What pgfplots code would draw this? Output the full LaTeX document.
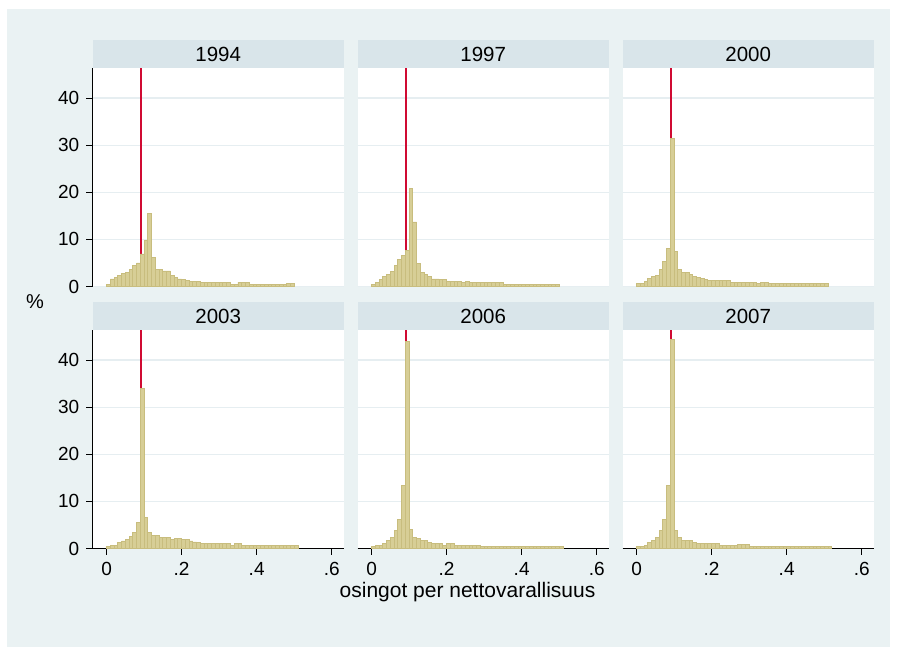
\documentclass[border=0pt]{standalone}
\usepackage{fontspec}
\setmainfont{Liberation Sans}
\usepackage{pgfplots}
\pgfplotsset{compat=1.18}
\definecolor{bg}{RGB}{234,242,243}
\definecolor{hdr}{RGB}{217,229,234}
\definecolor{gridc}{RGB}{230,238,241}
\definecolor{barf}{RGB}{215,206,150}
\definecolor{bard}{RGB}{200,189,126}
\definecolor{refl}{RGB}{208,10,50}
\pgfplotsset{
 panel/.style={scale only axis, width=125.5pt, height=109.25pt,
   xmin=-0.037, xmax=0.632, ymin=0, ymax=46.4,
   axis lines*=left, axis background/.style={fill=white},
   ymajorgrids, grid style={gridc, line width=0.7pt},
   ytick={0,10,20,30,40}, xtick={0,0.2,0.4,0.6},
   tick align=outside, major tick length=3.2pt,
   xticklabels={}, yticklabels={},
   x axis line style={draw=none}, y axis line style={draw=none},
   xtick style={draw=none}, ytick style={draw=none},
   /pgf/number format/assume math mode=true,
   ticklabel style={font=\fontsize{9.5}{11}\selectfont},
 },
 leftcol/.style={y axis line style={draw=black, line width=0.5pt},
   ytick style={draw=black, line width=0.5pt}, yticklabels={0,10,20,30,40}},
 bottomrow/.style={x axis line style={draw=black, line width=0.5pt},
   xtick style={draw=black, line width=0.5pt}, xticklabels={0,.2,.4,.6}},
 hist/.style={ybar interval, fill=barf, draw=bard, line width=0.4pt},
 refline/.style={draw=refl, line width=0.9pt},
}
\newcommand{\ttl}{\fontsize{10.25}{12}\selectfont}
\begin{document}
\begin{tikzpicture}
\fill[white] (0pt,0pt) rectangle (448.5pt,328pt);
\fill[bg] (3.5pt,4.5pt) rectangle (445pt,323.5pt);
% headers
\foreach \cx in {46.35,178.85,311.35}{
  \fill[hdr] (\cx pt,294pt) rectangle ++(125.5pt,14pt);
  \fill[hdr] (\cx pt,163pt) rectangle ++(125.5pt,14pt);
}
\node[font=\ttl] at (109.1pt,301pt) {1994};
\node[font=\ttl] at (241.6pt,301pt) {1997};
\node[font=\ttl] at (374.1pt,301pt) {2000};
\node[font=\ttl] at (109.1pt,170pt) {2003};
\node[font=\ttl] at (241.6pt,170pt) {2006};
\node[font=\ttl] at (374.1pt,170pt) {2007};
\node[font=\fontsize{10}{12}\selectfont] at (17.5pt,177pt) {\%};
\node[font=\fontsize{10.5}{12}\selectfont] at (233.75pt,32pt) {osingot per nettovarallisuus};

% 1994
\begin{axis}[panel, leftcol, at={(46.35pt,184.75pt)}, anchor=south west]
\addplot[refline] coordinates {(0.091,0) (0.091,46.4)};
\addplot[hist] coordinates {(0,0.5)(0.01,1.6)(0.02,2.0)(0.03,2.3)(0.04,2.8)(0.05,2.9)(0.06,3.6)(0.07,4.5)(0.08,5.0)(0.09,6.9)(0.10,9.8)(0.11,15.5)(0.12,6.2)(0.13,3.6)(0.14,3.6)(0.15,3.3)(0.16,3.3)(0.17,2.4)(0.18,2.0)(0.19,1.6)(0.20,1.4)(0.21,1.2)(0.22,1.1)(0.23,1.1)(0.24,1.0)(0.25,0.9)(0.26,0.9)(0.27,0.9)(0.28,0.9)(0.29,0.9)(0.30,0.9)(0.31,0.9)(0.32,0.9)(0.33,0.5)(0.34,0.5)(0.35,0.9)(0.36,0.9)(0.37,0.9)(0.38,0.5)(0.39,0.5)(0.40,0.5)(0.41,0.5)(0.42,0.5)(0.43,0.5)(0.44,0.5)(0.45,0.5)(0.46,0.5)(0.47,0.5)(0.48,0.7)(0.49,0.7)(0.50,0.7)};
\end{axis}
% 1997
\begin{axis}[panel, at={(178.85pt,184.75pt)}, anchor=south west]
\addplot[refline] coordinates {(0.091,0) (0.091,46.4)};
\addplot[hist] coordinates {(0,0.4)(0.01,0.85)(0.02,1.4)(0.03,2.1)(0.04,2.5)(0.05,3.1)(0.06,4.4)(0.07,5.7)(0.08,6.5)(0.09,7.6)(0.10,20.8)(0.11,13.7)(0.12,4.8)(0.13,3.0)(0.14,2.5)(0.15,2.1)(0.16,1.6)(0.17,1.6)(0.18,1.4)(0.19,1.4)(0.20,1.1)(0.21,1.1)(0.22,1.1)(0.23,1.1)(0.24,0.9)(0.25,1.1)(0.26,0.9)(0.27,0.9)(0.28,0.9)(0.29,0.9)(0.30,0.9)(0.31,0.9)(0.32,0.9)(0.33,0.9)(0.34,0.9)(0.35,0.45)(0.36,0.45)(0.37,0.45)(0.38,0.45)(0.39,0.45)(0.40,0.45)(0.41,0.45)(0.42,0.45)(0.43,0.45)(0.44,0.45)(0.45,0.45)(0.46,0.45)(0.47,0.45)(0.48,0.45)(0.49,0.45)(0.50,0.45)};
\end{axis}
% 2000
\begin{axis}[panel, at={(311.35pt,184.75pt)}, anchor=south west]
\addplot[refline] coordinates {(0.091,0) (0.091,46.4)};
\addplot[hist] coordinates {(0,0.6)(0.01,0.6)(0.02,1.1)(0.03,1.7)(0.04,2.2)(0.05,2.4)(0.06,3.6)(0.07,5.3)(0.08,8.1)(0.09,31.4)(0.10,7.4)(0.11,3.6)(0.12,3.0)(0.13,2.9)(0.14,2.5)(0.15,2.2)(0.16,2.0)(0.17,1.7)(0.18,1.5)(0.19,1.2)(0.20,1.2)(0.21,1.2)(0.22,1.2)(0.23,1.2)(0.24,1.2)(0.25,0.9)(0.26,0.9)(0.27,0.9)(0.28,0.9)(0.29,0.9)(0.30,0.9)(0.31,0.9)(0.32,0.6)(0.33,0.9)(0.34,0.9)(0.35,0.6)(0.36,0.6)(0.37,0.6)(0.38,0.6)(0.39,0.6)(0.40,0.6)(0.41,0.6)(0.42,0.6)(0.43,0.6)(0.44,0.6)(0.45,0.6)(0.46,0.6)(0.47,0.6)(0.48,0.6)(0.49,0.6)(0.50,0.6)(0.51,0.6)};
\end{axis}
% 2003
\begin{axis}[panel, leftcol, bottomrow, at={(46.35pt,53.75pt)}, anchor=south west]
\addplot[refline] coordinates {(0.091,0) (0.091,46.4)};
\addplot[hist] coordinates {(0,0.35)(0.01,0.6)(0.02,0.6)(0.03,1.2)(0.04,1.6)(0.05,1.9)(0.06,2.5)(0.07,3.4)(0.08,5.5)(0.09,34.0)(0.10,6.5)(0.11,3.4)(0.12,2.8)(0.13,2.8)(0.14,2.3)(0.15,2.3)(0.16,2.3)(0.17,1.9)(0.18,2.1)(0.19,2.1)(0.20,1.9)(0.21,1.9)(0.22,1.6)(0.23,1.4)(0.24,1.2)(0.25,1.05)(0.26,1.05)(0.27,1.05)(0.28,1.05)(0.29,1.05)(0.30,1.05)(0.31,1.05)(0.32,1.05)(0.33,0.7)(0.34,1.05)(0.35,1.05)(0.36,0.6)(0.37,0.6)(0.38,0.6)(0.39,0.6)(0.40,0.6)(0.41,0.6)(0.42,0.6)(0.43,0.6)(0.44,0.6)(0.45,0.6)(0.46,0.6)(0.47,0.6)(0.48,0.6)(0.49,0.6)(0.50,0.6)(0.51,0.6)};
\end{axis}
% 2006
\begin{axis}[panel, bottomrow, at={(178.85pt,53.75pt)}, anchor=south west]
\addplot[refline] coordinates {(0.091,0) (0.091,46.4)};
\addplot[hist] coordinates {(0,0.35)(0.01,0.6)(0.02,0.6)(0.03,1.05)(0.04,1.8)(0.05,2.3)(0.06,3.9)(0.07,6.2)(0.08,13.3)(0.09,44.0)(0.10,4.1)(0.11,2.3)(0.12,2.1)(0.13,1.8)(0.14,1.8)(0.15,1.3)(0.16,1.05)(0.17,1.05)(0.18,1.05)(0.19,0.7)(0.20,1.05)(0.21,1.05)(0.22,0.7)(0.23,0.7)(0.24,0.7)(0.25,0.7)(0.26,0.7)(0.27,0.7)(0.28,0.7)(0.29,0.45)(0.30,0.45)(0.31,0.45)(0.32,0.45)(0.33,0.45)(0.34,0.45)(0.35,0.45)(0.36,0.45)(0.37,0.45)(0.38,0.45)(0.39,0.45)(0.40,0.45)(0.41,0.45)(0.42,0.45)(0.43,0.45)(0.44,0.45)(0.45,0.45)(0.46,0.45)(0.47,0.45)(0.48,0.45)(0.49,0.45)(0.50,0.45)(0.51,0.45)};
\end{axis}
% 2007
\begin{axis}[panel, bottomrow, at={(311.35pt,53.75pt)}, anchor=south west]
\addplot[refline] coordinates {(0.091,0) (0.091,46.4)};
\addplot[hist] coordinates {(0,0.35)(0.01,0.35)(0.02,0.7)(0.03,1.2)(0.04,1.8)(0.05,2.3)(0.06,3.9)(0.07,6.2)(0.08,13.3)(0.09,44.3)(0.10,3.8)(0.11,2.3)(0.12,1.8)(0.13,1.8)(0.14,1.8)(0.15,1.3)(0.16,1.05)(0.17,1.05)(0.18,1.05)(0.19,1.05)(0.20,1.05)(0.21,1.05)(0.22,0.7)(0.23,0.7)(0.24,0.7)(0.25,0.7)(0.26,0.7)(0.27,0.85)(0.28,0.85)(0.29,0.85)(0.30,0.5)(0.31,0.5)(0.32,0.5)(0.33,0.5)(0.34,0.5)(0.35,0.5)(0.36,0.5)(0.37,0.5)(0.38,0.5)(0.39,0.5)(0.40,0.5)(0.41,0.5)(0.42,0.5)(0.43,0.5)(0.44,0.5)(0.45,0.5)(0.46,0.5)(0.47,0.5)(0.48,0.5)(0.49,0.5)(0.50,0.5)(0.51,0.5)(0.52,0.5)};
\end{axis}
\end{tikzpicture}
\end{document}
